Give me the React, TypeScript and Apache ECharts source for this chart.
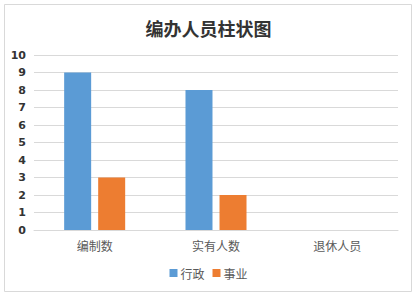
import React, { useEffect, useRef } from "react";
import * as echarts from "echarts";

const categories = ["编制数", "实有人数", "退休人员"];
const xingzheng = [9, 8, 0];
const shiye = [3, 2, 0];
const seriesNames = ["行政", "事业"];

export default function App() {
  const ref = useRef<HTMLDivElement>(null);
  useEffect(() => {
    const chart = echarts.init(ref.current!, undefined, { renderer: "svg" });
    chart.setOption({
      animation: false,
      backgroundColor: "#ffffff",
      title: {
        text: "编办人员柱状图",
        left: "center",
        top: 14,
        textStyle: {
          fontSize: 18,
          fontWeight: "bold",
          color: "#333333",
          fontFamily: "Noto Sans CJK SC",
        },
      },
      graphic: [
        {
          type: "rect",
          shape: { x: 4.5, y: 4.5, width: 407, height: 287 },
          style: { fill: "none", stroke: "#d9d9d9", lineWidth: 1 },
          silent: true,
        },
      ],
      legend: {
        data: seriesNames,
        top: 262,
        left: "center",
        itemWidth: 8,
        itemHeight: 8,
        itemGap: 8,
        icon: "rect",
        textStyle: { fontSize: 12, color: "#595959", fontFamily: "Noto Sans CJK SC", padding: [0, 0, 0, -2] },
      },
      grid: { left: 34, right: 19, top: 55, bottom: 67, containLabel: false },
      xAxis: {
        type: "category",
        data: categories,
        axisLine: { lineStyle: { color: "#d9d9d9" } },
        axisTick: { show: false },
        axisLabel: { fontSize: 12, color: "#595959", margin: 9, fontFamily: "Noto Sans CJK SC" },
      },
      yAxis: {
        type: "value",
        min: 0,
        max: 10,
        interval: 1,
        axisLine: { show: false },
        axisTick: { show: false },
        splitLine: { lineStyle: { color: "#d9d9d9" } },
        axisLabel: { fontSize: 11, color: "#333333", fontWeight: "bold", margin: 8, fontFamily: "DejaVu Sans" },
      },
      series: [
        {
          name: seriesNames[0],
          type: "bar",
          data: xingzheng,
          barWidth: 27,
          barGap: "26%",
          itemStyle: { color: "#5b9bd5" },
        },
        {
          name: seriesNames[1],
          type: "bar",
          data: shiye,
          barWidth: 27,
          itemStyle: { color: "#ed7d31" },
        },
      ],
    });
    return () => chart.dispose();
  }, []);
  return (
    <div
      ref={ref}
      style={{ position: "fixed", left: 0, top: 0, width: 417, height: 297 }}
    />
  );
}
